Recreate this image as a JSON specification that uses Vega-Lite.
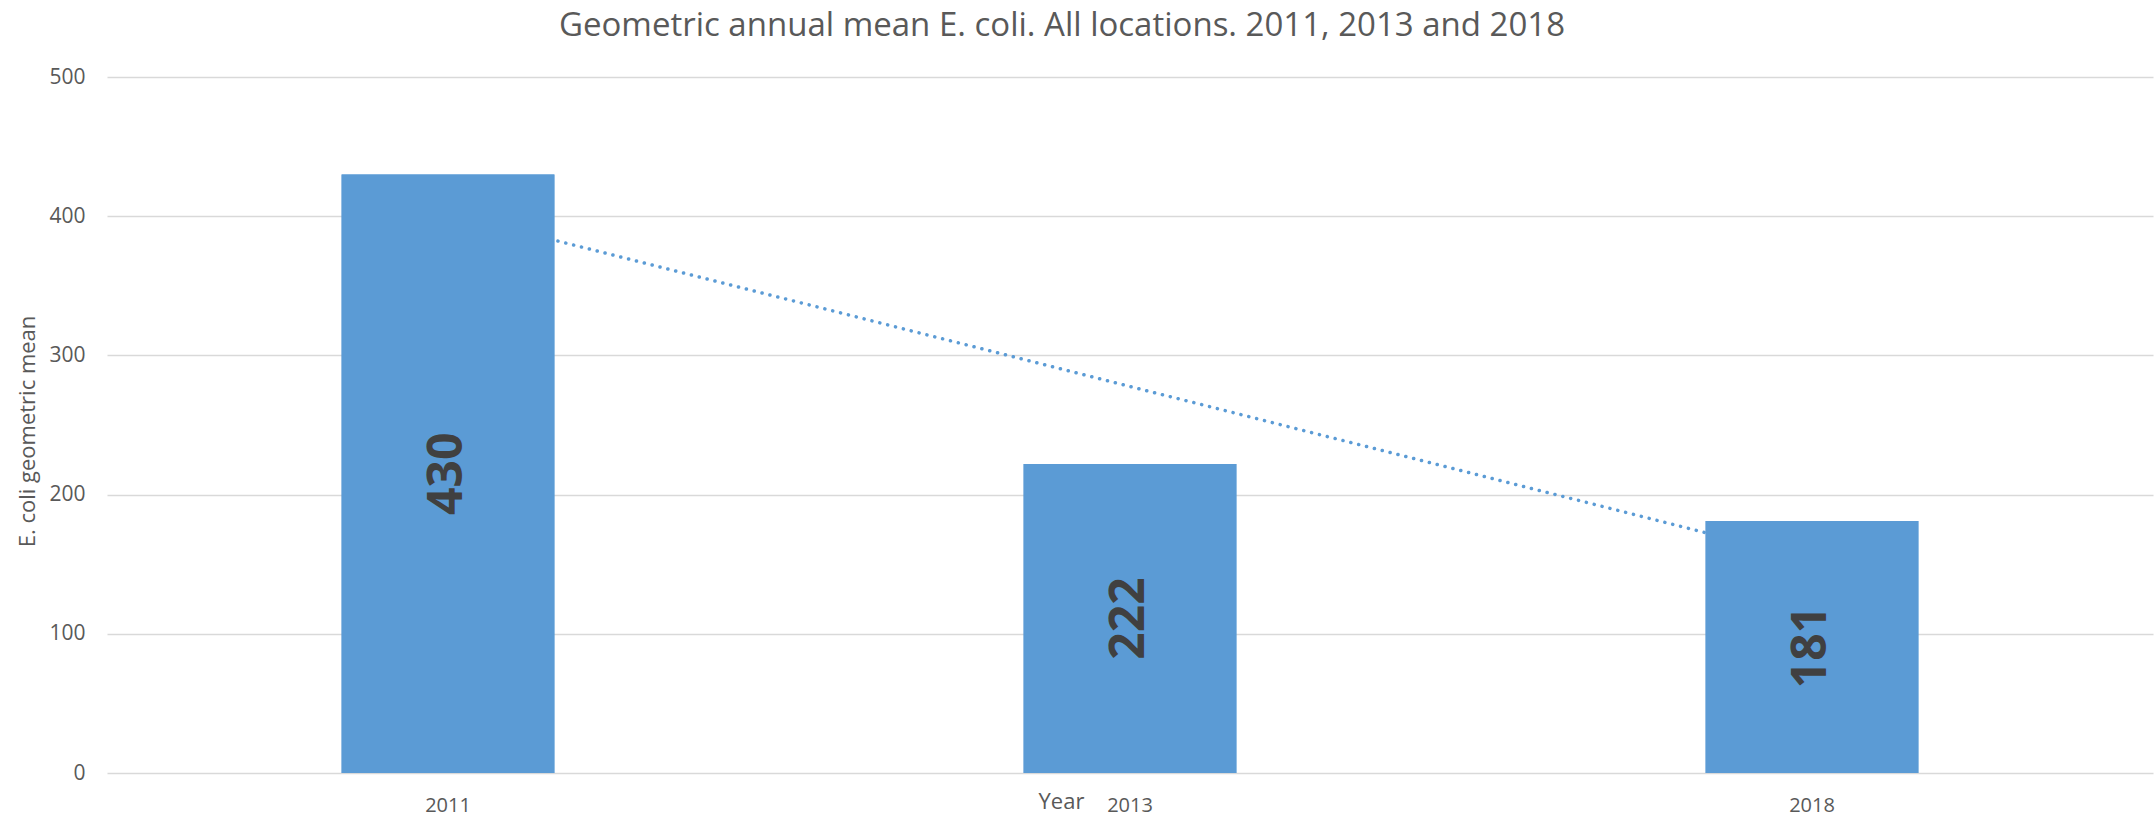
{
  "$schema": "https://vega.github.io/schema/vega-lite/v6.json",
  "autosize": "none",
  "padding": {"left": 107, "top": 77, "right": 2, "bottom": 46},
  "width": 2046,
  "height": 696,
  "background": "white",
  "config": {"view": {"stroke": null}, "font": "Open Sans"},
  "title": {
    "text": "Geometric annual mean E. coli. All locations. 2011, 2013 and 2018",
    "fontSize": 33,
    "font": "Open Sans",
    "fontWeight": "normal",
    "color": "#595959",
    "anchor": "middle",
    "dx": -68,
    "offset": 23
  },
  "data": {
    "values": [
      {"year": "2011", "value": 430, "trend": 402.2},
      {"year": "2013", "value": 222, "trend": 277.7},
      {"year": "2018", "value": 181, "trend": 153.2}
    ]
  },
  "encoding": {
    "x": {
      "field": "year",
      "type": "ordinal",
      "scale": {"paddingInner": 0.688, "paddingOuter": 0.344},
      "axis": {
        "title": "Year",
        "titleFont": "Open Sans",
        "titleFontSize": 22,
        "titleFontWeight": "normal",
        "titleColor": "#595959",
        "titleX": 954,
        "titleY": 28,
        "titleAlign": "center",
        "titleBaseline": "middle",
        "labelAngle": 0,
        "labelFontSize": 20,
        "labelColor": "#595959",
        "labelPadding": 22,
        "ticks": false,
        "domain": false,
        "grid": false
      }
    }
  },
  "layer": [
    {
      "mark": {"type": "bar", "color": "#5B9BD5"},
      "encoding": {
        "y": {
          "field": "value",
          "type": "quantitative",
          "scale": {"domain": [0, 500]},
          "axis": {
            "title": "E. coli geometric mean",
            "titleFont": "Open Sans",
            "titleFontSize": 22,
            "titleFontWeight": "normal",
            "titleColor": "#595959",
            "titleX": -80,
            "titleY": 354,
            "titleAngle": -90,
            "titleAlign": "center",
            "titleBaseline": "middle",
            "values": [0, 100, 200, 300, 400, 500],
            "labelFontSize": 21,
            "labelColor": "#595959",
            "labelPadding": 22,
            "ticks": false,
            "domain": false,
            "grid": true,
            "gridColor": "#D9D9D9",
            "gridWidth": 1.5,
            "zindex": 0
          }
        }
      }
    },
    {
      "mark": {"type": "line", "color": "#5B9BD5", "strokeWidth": 3.5, "strokeDash": [0.1, 8], "strokeCap": "round"},
      "encoding": {
        "y": {"field": "trend", "type": "quantitative", "scale": {"domain": [0, 500]}, "axis": null}
      }
    },
    {
      "mark": {"type": "bar", "color": "#5B9BD5"},
      "encoding": {
        "y": {"field": "value", "type": "quantitative", "scale": {"domain": [0, 500]}, "axis": null}
      }
    },
    {
      "mark": {"type": "text", "angle": -90, "align": "center", "baseline": "middle", "fontSize": 48, "fontWeight": "bold", "font": "Open Sans", "color": "#404040"},
      "encoding": {
        "y": {"field": "value", "type": "quantitative", "scale": {"domain": [0, 1000]}, "axis": null},
        "text": {"field": "value", "type": "quantitative"}
      }
    }
  ],
  "resolve": {"scale": {"y": "independent"}}
}
